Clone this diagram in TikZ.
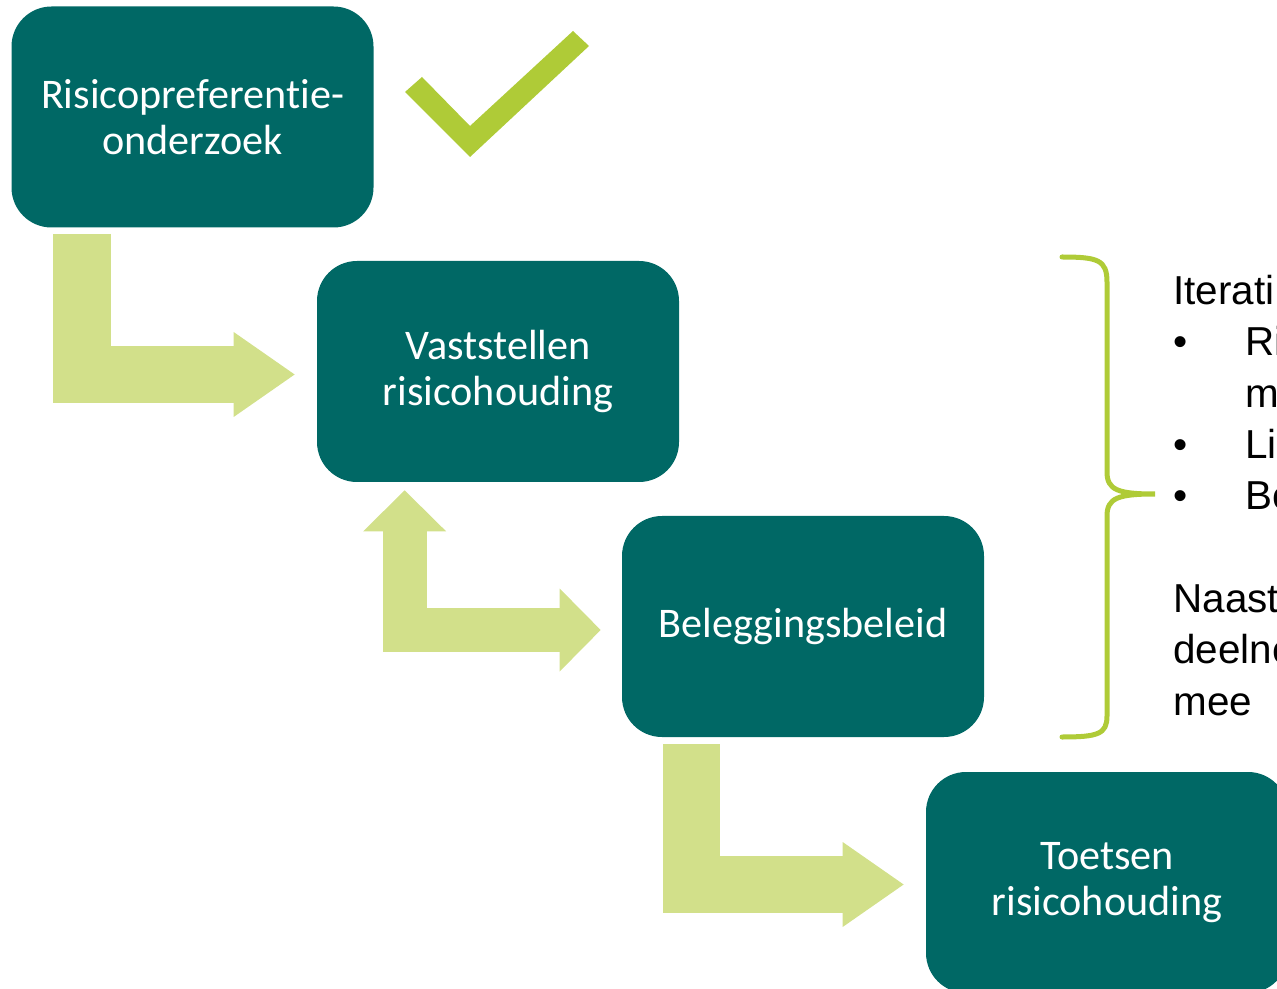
\documentclass[tikz,border=0pt]{standalone}
\usepackage{fontspec}
\setmainfont{Carlito}[Ligatures=NoCommon]
\newfontfamily\arialfont{Liberation Sans}
\usepackage{tikz}
\usetikzlibrary{arrows.meta, positioning}
\usepackage{xcolor}
\definecolor{teal}{HTML}{006865}
\definecolor{paleGreen}{HTML}{D2E08A}
\definecolor{limeGreen}{HTML}{AFCB37}

\tikzset{
  fase/.style={fill=teal, rounded corners=0.8cm, minimum width=7.24cm, minimum height=4.42cm,
    align=center, text=white, font=\fontsize{24}{26.3}\selectfont},
  blokpijl/.style={paleGreen, line width=1.15cm, -{Triangle[length=1.22cm, width=1.7cm, line width=0pt]}},
  dubbelpijl/.style={paleGreen, line width=0.88cm,
    {Triangle[length=0.82cm, width=1.66cm, line width=0pt]}-{Triangle[length=0.82cm, width=1.66cm, line width=0pt]}},
}

\begin{document}
\begin{tikzpicture}
\useasboundingbox (0,0) rectangle (25.54,-19.78);
% the four stages
\node[fase] (onderzoek) at (3.85,-2.34) {Risicopreferentie-\\onderzoek};
\node[fase] (vaststellen) at (9.96,-7.43) {Vaststellen\\risicohouding};
\node[fase] (beleid) at (16.06,-12.53) {Beleggingsbeleid};
\node[fase] (toetsen) at (22.14,-17.65) {Toetsen\\risicohouding};
% bent block arrows
\draw[blokpijl] ([shift={(1.42,-0.12)}]onderzoek.south west) |- ([shift={(-0.44,-0.06)}]vaststellen.west);
\draw[dubbelpijl] ([shift={(1.76,-0.16)}]vaststellen.south west) |- ([shift={(-0.42,-0.07)}]beleid.west);
\draw[blokpijl] ([shift={(1.4,-0.14)}]beleid.south west) |- ([shift={(-0.44,-0.04)}]toetsen.west);
% check mark
\fill[limeGreen] (8.1,-1.84) -- (8.44,-1.54) -- (9.4,-2.52) -- (11.46,-0.62) -- (11.78,-0.92) -- (9.4,-3.14) -- cycle;
% brace
\draw[limeGreen, line width=0.1cm, line cap=round]
  (21.24,-5.14) .. controls (21.96,-5.14) and (22.14,-5.2) .. (22.14,-5.64) -- (22.14,-9.44)
  .. controls (22.14,-9.8) and (22.36,-9.88) .. (23.1,-9.88)
  .. controls (22.36,-9.88) and (22.14,-9.96) .. (22.14,-10.32) -- (22.14,-14.32)
  .. controls (22.14,-14.68) and (21.96,-14.74) .. (21.24,-14.74);
\node[anchor=north west, inner sep=0pt, align=left, font=\arialfont\fontsize{23}{29.2}\selectfont] (toelichting) at (23.46,-5.5)
  {Iterati\\
   \makebox[1.44cm][l]{•}Ri\\
   \hspace*{1.44cm}m\\
   \makebox[1.44cm][l]{•}Li\\
   \makebox[1.44cm][l]{•}Be\\[29.2pt]
   Naast\\
   deelne\\
   mee};
\end{tikzpicture}
\end{document}
